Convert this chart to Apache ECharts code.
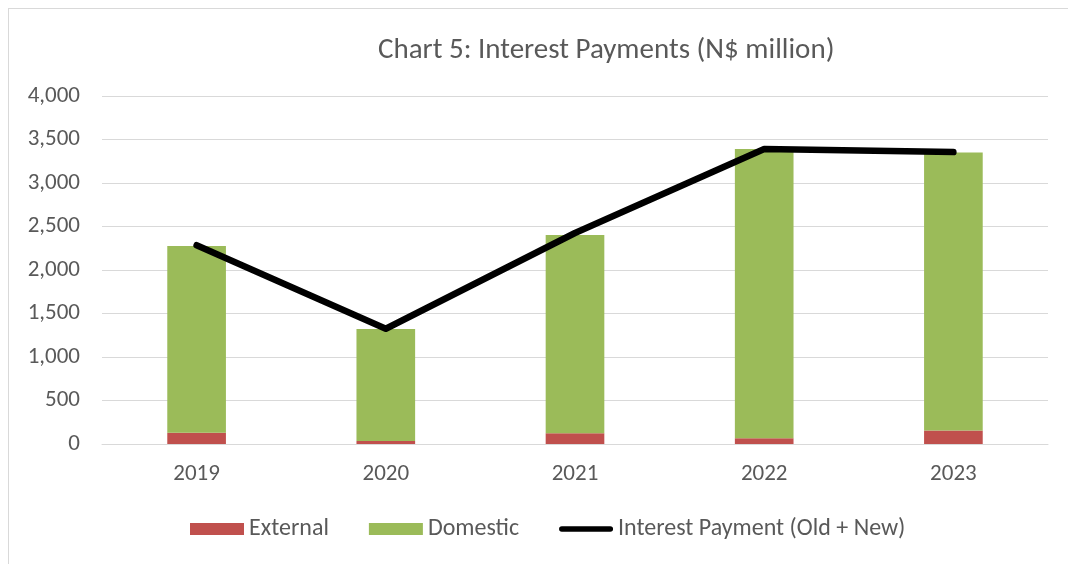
<!DOCTYPE html>
<html>
<head>
<meta charset="utf-8">
<script src="https://cdn.jsdelivr.net/npm/echarts@6/dist/echarts.min.js"></script>
<style>
  html, body { margin: 0; padding: 0; background: #fff; }
  #chart { width: 1068px; height: 564px; position: relative; }
  .frame { position: absolute; left: 8px; top: 8px; width: 1080px; height: 600px; border: 1px solid #d9d9d9; box-sizing: border-box; pointer-events: none; }
</style>
</head>
<body>
<div id="chart"></div>
<div class="frame"></div>
<script>
// data
const years = ['2019', '2020', '2021', '2022', '2023']
const external = [130, 35, 125, 65, 155]
const domestic = [2146, 1287, 2277, 3325, 3197]
const totalLine = [2285, 1325, 2425, 3390, 3355]

const font = "Carlito, 'Open Sans', sans-serif"
const grey = '#595959'

const chart = echarts.init(document.getElementById('chart'))
chart.setOption({
  animation: false,
  title: {
    text: 'Chart 5: Interest Payments (N$ million)',
    left: 373,
    top: 31,
    textStyle: { fontFamily: font, fontSize: 29, fontWeight: 'normal', color: grey }
  },
  grid: { left: 102, right: 20, top: 96, bottom: 120 },
  legend: {
    bottom: 18,
    left: 185,
    itemWidth: 54,
    itemHeight: 12,
    itemGap: 40,
    textStyle: { fontFamily: font, fontSize: 24, color: grey },
    data: [
      { name: 'External', icon: 'rect' },
      { name: 'Domestic', icon: 'rect' },
      { name: 'Interest Payment (Old + New)', icon: 'path://M3,0 h52 a3,3 0 0 1 0,6 h-52 a3,3 0 0 1 0,-6z' }
    ]
  },
  xAxis: {
    type: 'category',
    data: years,
    axisTick: { show: false },
    axisLine: { lineStyle: { color: '#d9d9d9', width: 1 } },
    axisLabel: { fontFamily: font, fontSize: 23, color: grey, margin: 19 }
  },
  yAxis: {
    type: 'value',
    min: 0,
    max: 4000,
    interval: 500,
    axisLine: { show: false },
    axisTick: { show: false },
    axisLabel: {
      fontFamily: font, fontSize: 23, color: grey, margin: 22,
      formatter: v => v.toLocaleString('en-US')
    },
    splitLine: { lineStyle: { color: '#d9d9d9', width: 1 } }
  },
  series: [
    {
      name: 'External', type: 'bar', stack: 'total', barWidth: '31%',
      itemStyle: { color: '#c0504d' }, data: external
    },
    {
      name: 'Domestic', type: 'bar', stack: 'total', barWidth: '31%',
      itemStyle: { color: '#9bbb59' }, data: domestic
    },
    {
      name: 'Interest Payment (Old + New)', type: 'line', symbol: 'none',
      itemStyle: { color: '#000' },
      lineStyle: { color: '#000', width: 6.5, cap: 'round', join: 'round' },
      data: totalLine
    }
  ]
})
</script>
</body>
</html>
